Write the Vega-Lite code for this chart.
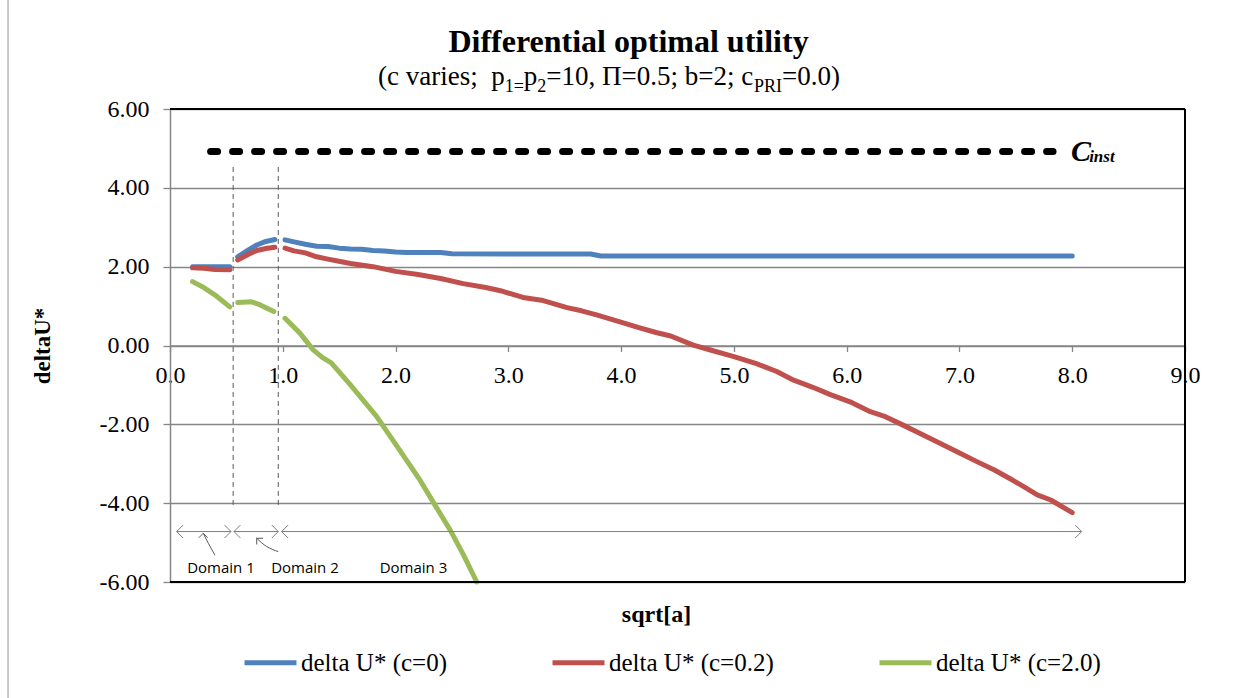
{
  "$schema": "https://vega.github.io/schema/vega-lite/v6.json",
  "width": 1015,
  "height": 473,
  "autosize": "none",
  "padding": {"left": 170, "top": 109, "right": 62, "bottom": 116},
  "background": "white",
  "config": {
    "view": {"stroke": null},
    "font": "Liberation Serif",
    "text": {"font": "Liberation Serif", "color": "black"}
  },
  "title": {
    "text": "Differential optimal utility",
    "font": "Liberation Serif",
    "fontSize": 32,
    "fontWeight": "bold",
    "color": "black",
    "anchor": "middle",
    "dx": -49,
    "offset": -61
  },
  "datasets": {
    "series": [
      {"x": 0.2, "y": 2.0, "s": "delta U* (c=0)", "seg": 1},
      {"x": 0.3, "y": 2.0, "s": "delta U* (c=0)", "seg": 1},
      {"x": 0.4, "y": 2.0, "s": "delta U* (c=0)", "seg": 1},
      {"x": 0.53, "y": 2.0, "s": "delta U* (c=0)", "seg": 1},
      {"x": 0.6, "y": 2.25, "s": "delta U* (c=0)", "seg": 2},
      {"x": 0.7, "y": 2.43, "s": "delta U* (c=0)", "seg": 2},
      {"x": 0.77, "y": 2.55, "s": "delta U* (c=0)", "seg": 2},
      {"x": 0.85, "y": 2.64, "s": "delta U* (c=0)", "seg": 2},
      {"x": 0.93, "y": 2.69, "s": "delta U* (c=0)", "seg": 2},
      {"x": 1.02, "y": 2.68, "s": "delta U* (c=0)", "seg": 3},
      {"x": 1.1, "y": 2.63, "s": "delta U* (c=0)", "seg": 3},
      {"x": 1.2, "y": 2.57, "s": "delta U* (c=0)", "seg": 3},
      {"x": 1.3, "y": 2.52, "s": "delta U* (c=0)", "seg": 3},
      {"x": 1.4, "y": 2.51, "s": "delta U* (c=0)", "seg": 3},
      {"x": 1.5, "y": 2.47, "s": "delta U* (c=0)", "seg": 3},
      {"x": 1.6, "y": 2.45, "s": "delta U* (c=0)", "seg": 3},
      {"x": 1.7, "y": 2.44, "s": "delta U* (c=0)", "seg": 3},
      {"x": 1.8, "y": 2.41, "s": "delta U* (c=0)", "seg": 3},
      {"x": 1.9, "y": 2.4, "s": "delta U* (c=0)", "seg": 3},
      {"x": 2.0, "y": 2.37, "s": "delta U* (c=0)", "seg": 3},
      {"x": 2.1, "y": 2.36, "s": "delta U* (c=0)", "seg": 3},
      {"x": 2.4, "y": 2.36, "s": "delta U* (c=0)", "seg": 3},
      {"x": 2.5, "y": 2.33, "s": "delta U* (c=0)", "seg": 3},
      {"x": 3.0, "y": 2.32, "s": "delta U* (c=0)", "seg": 3},
      {"x": 3.73, "y": 2.32, "s": "delta U* (c=0)", "seg": 3},
      {"x": 3.82, "y": 2.27, "s": "delta U* (c=0)", "seg": 3},
      {"x": 8.0, "y": 2.27, "s": "delta U* (c=0)", "seg": 3},
      {"x": 0.2, "y": 1.97, "s": "delta U* (c=0.2)", "seg": 1},
      {"x": 0.3, "y": 1.96, "s": "delta U* (c=0.2)", "seg": 1},
      {"x": 0.4, "y": 1.93, "s": "delta U* (c=0.2)", "seg": 1},
      {"x": 0.53, "y": 1.92, "s": "delta U* (c=0.2)", "seg": 1},
      {"x": 0.6, "y": 2.17, "s": "delta U* (c=0.2)", "seg": 2},
      {"x": 0.7, "y": 2.32, "s": "delta U* (c=0.2)", "seg": 2},
      {"x": 0.77, "y": 2.41, "s": "delta U* (c=0.2)", "seg": 2},
      {"x": 0.85, "y": 2.46, "s": "delta U* (c=0.2)", "seg": 2},
      {"x": 0.93, "y": 2.49, "s": "delta U* (c=0.2)", "seg": 2},
      {"x": 1.02, "y": 2.47, "s": "delta U* (c=0.2)", "seg": 3},
      {"x": 1.1, "y": 2.4, "s": "delta U* (c=0.2)", "seg": 3},
      {"x": 1.2, "y": 2.35, "s": "delta U* (c=0.2)", "seg": 3},
      {"x": 1.3, "y": 2.25, "s": "delta U* (c=0.2)", "seg": 3},
      {"x": 1.4, "y": 2.19, "s": "delta U* (c=0.2)", "seg": 3},
      {"x": 1.51, "y": 2.13, "s": "delta U* (c=0.2)", "seg": 3},
      {"x": 1.6, "y": 2.08, "s": "delta U* (c=0.2)", "seg": 3},
      {"x": 1.8, "y": 2.0, "s": "delta U* (c=0.2)", "seg": 3},
      {"x": 2.0, "y": 1.88, "s": "delta U* (c=0.2)", "seg": 3},
      {"x": 2.2, "y": 1.8, "s": "delta U* (c=0.2)", "seg": 3},
      {"x": 2.4, "y": 1.7, "s": "delta U* (c=0.2)", "seg": 3},
      {"x": 2.6, "y": 1.57, "s": "delta U* (c=0.2)", "seg": 3},
      {"x": 2.8, "y": 1.47, "s": "delta U* (c=0.2)", "seg": 3},
      {"x": 2.93, "y": 1.39, "s": "delta U* (c=0.2)", "seg": 3},
      {"x": 3.13, "y": 1.22, "s": "delta U* (c=0.2)", "seg": 3},
      {"x": 3.31, "y": 1.14, "s": "delta U* (c=0.2)", "seg": 3},
      {"x": 3.52, "y": 0.96, "s": "delta U* (c=0.2)", "seg": 3},
      {"x": 3.65, "y": 0.88, "s": "delta U* (c=0.2)", "seg": 3},
      {"x": 3.79, "y": 0.77, "s": "delta U* (c=0.2)", "seg": 3},
      {"x": 3.99, "y": 0.6, "s": "delta U* (c=0.2)", "seg": 3},
      {"x": 4.15, "y": 0.46, "s": "delta U* (c=0.2)", "seg": 3},
      {"x": 4.31, "y": 0.33, "s": "delta U* (c=0.2)", "seg": 3},
      {"x": 4.44, "y": 0.24, "s": "delta U* (c=0.2)", "seg": 3},
      {"x": 4.64, "y": 0.01, "s": "delta U* (c=0.2)", "seg": 3},
      {"x": 4.8, "y": -0.12, "s": "delta U* (c=0.2)", "seg": 3},
      {"x": 5.0, "y": -0.28, "s": "delta U* (c=0.2)", "seg": 3},
      {"x": 5.2, "y": -0.46, "s": "delta U* (c=0.2)", "seg": 3},
      {"x": 5.38, "y": -0.66, "s": "delta U* (c=0.2)", "seg": 3},
      {"x": 5.53, "y": -0.88, "s": "delta U* (c=0.2)", "seg": 3},
      {"x": 5.7, "y": -1.06, "s": "delta U* (c=0.2)", "seg": 3},
      {"x": 5.85, "y": -1.24, "s": "delta U* (c=0.2)", "seg": 3},
      {"x": 6.03, "y": -1.43, "s": "delta U* (c=0.2)", "seg": 3},
      {"x": 6.21, "y": -1.68, "s": "delta U* (c=0.2)", "seg": 3},
      {"x": 6.33, "y": -1.79, "s": "delta U* (c=0.2)", "seg": 3},
      {"x": 6.5, "y": -2.02, "s": "delta U* (c=0.2)", "seg": 3},
      {"x": 6.62, "y": -2.19, "s": "delta U* (c=0.2)", "seg": 3},
      {"x": 6.8, "y": -2.44, "s": "delta U* (c=0.2)", "seg": 3},
      {"x": 7.01, "y": -2.74, "s": "delta U* (c=0.2)", "seg": 3},
      {"x": 7.15, "y": -2.94, "s": "delta U* (c=0.2)", "seg": 3},
      {"x": 7.31, "y": -3.16, "s": "delta U* (c=0.2)", "seg": 3},
      {"x": 7.45, "y": -3.38, "s": "delta U* (c=0.2)", "seg": 3},
      {"x": 7.57, "y": -3.58, "s": "delta U* (c=0.2)", "seg": 3},
      {"x": 7.69, "y": -3.79, "s": "delta U* (c=0.2)", "seg": 3},
      {"x": 7.81, "y": -3.92, "s": "delta U* (c=0.2)", "seg": 3},
      {"x": 8.0, "y": -4.24, "s": "delta U* (c=0.2)", "seg": 3},
      {"x": 0.2, "y": 1.62, "s": "delta U* (c=2.0)", "seg": 1},
      {"x": 0.3, "y": 1.47, "s": "delta U* (c=2.0)", "seg": 1},
      {"x": 0.4, "y": 1.28, "s": "delta U* (c=2.0)", "seg": 1},
      {"x": 0.53, "y": 0.98, "s": "delta U* (c=2.0)", "seg": 1},
      {"x": 0.6, "y": 1.09, "s": "delta U* (c=2.0)", "seg": 2},
      {"x": 0.72, "y": 1.11, "s": "delta U* (c=2.0)", "seg": 2},
      {"x": 0.8, "y": 1.03, "s": "delta U* (c=2.0)", "seg": 2},
      {"x": 0.92, "y": 0.86, "s": "delta U* (c=2.0)", "seg": 2},
      {"x": 1.02, "y": 0.69, "s": "delta U* (c=2.0)", "seg": 3},
      {"x": 1.15, "y": 0.32, "s": "delta U* (c=2.0)", "seg": 3},
      {"x": 1.27, "y": -0.11, "s": "delta U* (c=2.0)", "seg": 3},
      {"x": 1.35, "y": -0.3, "s": "delta U* (c=2.0)", "seg": 3},
      {"x": 1.43, "y": -0.44, "s": "delta U* (c=2.0)", "seg": 3},
      {"x": 1.6, "y": -1.0, "s": "delta U* (c=2.0)", "seg": 3},
      {"x": 1.83, "y": -1.79, "s": "delta U* (c=2.0)", "seg": 3},
      {"x": 2.0, "y": -2.5, "s": "delta U* (c=2.0)", "seg": 3},
      {"x": 2.22, "y": -3.43, "s": "delta U* (c=2.0)", "seg": 3},
      {"x": 2.35, "y": -4.05, "s": "delta U* (c=2.0)", "seg": 3},
      {"x": 2.48, "y": -4.66, "s": "delta U* (c=2.0)", "seg": 3},
      {"x": 2.6, "y": -5.3, "s": "delta U* (c=2.0)", "seg": 3},
      {"x": 2.72, "y": -6.0, "s": "delta U* (c=2.0)", "seg": 3}
    ],
    "frameh": [{"y": 6}, {"y": -6}],
    "framev": [{"x": 9}],
    "border": [{"x": -1.436, "y": 8.8, "y2": -9.0}],
    "cinst": [{"x": 0.36, "x2": 7.83, "y": 4.92}],
    "dividers": [
      {"x": 0.56, "y": 4.53, "y2": -4.08},
      {"x": 0.96, "y": 4.53, "y2": -4.08}
    ],
    "spans": [
      {"x": 0.059, "x2": 0.541, "y": -4.72},
      {"x": 0.567, "x2": 0.96, "y": -4.72},
      {"x": 0.99, "x2": 8.084, "y": -4.72}
    ],
    "heads": [
      {"x": 0.059, "y": -4.72, "dir": "left"},
      {"x": 0.567, "y": -4.72, "dir": "left"},
      {"x": 0.99, "y": -4.72, "dir": "left"},
      {"x": 0.541, "y": -4.72, "dir": "right"},
      {"x": 0.96, "y": -4.72, "dir": "right"},
      {"x": 8.084, "y": -4.72, "dir": "right"},
      {"x": 0.295, "y": -4.764, "dir": "up"},
      {"x": 0.769, "y": -4.89, "dir": "upleft"}
    ],
    "curves": [
      {"c": "d1", "o": 1, "x": 0.399, "y": -5.32},
      {"c": "d1", "o": 2, "x": 0.34, "y": -5.018},
      {"c": "d1", "o": 3, "x": 0.295, "y": -4.764},
      {"c": "d2", "o": 1, "x": 0.96, "y": -5.23},
      {"c": "d2", "o": 2, "x": 0.857, "y": -5.1},
      {"c": "d2", "o": 3, "x": 0.769, "y": -4.89}
    ],
    "domains": [
      {"x": 0.452, "y": -5.65, "label": "Domain 1"},
      {"x": 1.197, "y": -5.65, "label": "Domain 2"},
      {"x": 2.159, "y": -5.65, "label": "Domain 3"}
    ],
    "cmain": [{"x": 7.99, "y": 4.92, "t": "C"}],
    "csub": [{"x": 8.15, "y": 4.66, "t": "inst"}],
    "subnormal": [
      {"x": 1.844, "y": 6.608, "t": "(c varies;"},
      {"x": 2.848, "y": 6.608, "t": "p"},
      {"x": 3.137, "y": 6.608, "t": "p"},
      {"x": 3.337, "y": 6.608, "t": "=10, Π=0.5; b=2; c"},
      {"x": 5.427, "y": 6.608, "t": "=0.0)"}
    ],
    "subsmall": [
      {"x": 2.968, "y": 6.43, "t": "1="},
      {"x": 3.257, "y": 6.43, "t": "2"},
      {"x": 5.178, "y": 6.43, "t": "PRI"}
    ]
  },
  "layer": [
    {
      "data": {"name": "series"},
      "mark": {"type": "line", "strokeWidth": 5, "strokeCap": "round", "strokeJoin": "round"},
      "encoding": {
        "x": {
          "field": "x",
          "type": "quantitative",
          "scale": {"domain": [0, 9], "nice": false, "zero": false},
          "axis": {
            "values": [0, 1, 2, 3, 4, 5, 6, 7, 8, 9],
            "format": ".1f",
            "offset": -236.5,
            "grid": false,
            "domainColor": "#868686",
            "domainWidth": 1.3,
            "tickColor": "#868686",
            "tickWidth": 1.3,
            "tickSize": 6,
            "labelFont": "Liberation Serif",
            "labelFontSize": 24,
            "labelColor": "black",
            "labelPadding": 12,
            "labelOverlap": false,
            "labelFlush": false,
            "title": "sqrt[a]",
            "titleFont": "Liberation Serif",
            "titleFontSize": 24,
            "titleFontWeight": "bold",
            "titleColor": "black",
            "titleX": 486,
            "titleY": 276,
            "titleAlign": "center",
            "titleBaseline": "alphabetic"
          }
        },
        "y": {
          "field": "y",
          "type": "quantitative",
          "scale": {"domain": [-6, 6], "nice": false, "zero": false},
          "axis": {
            "values": [-6, -4, -2, 0, 2, 4, 6],
            "labelExpr": "(datum.value < 0 ? '-' : '') + format(abs(datum.value), '.2f')",
            "grid": true,
            "gridColor": "#868686",
            "gridWidth": 1.3,
            "domainColor": "#868686",
            "domainWidth": 1.5,
            "tickColor": "#868686",
            "tickWidth": 1.3,
            "tickSize": 7,
            "labelFont": "Liberation Serif",
            "labelFontSize": 24,
            "labelColor": "black",
            "labelPadding": 14,
            "title": "deltaU*",
            "titleFont": "Liberation Serif",
            "titleFontSize": 23,
            "titleFontWeight": "bold",
            "titleColor": "black",
            "titleX": -128,
            "titleY": 236.5,
            "titleAngle": -90,
            "titleAlign": "center",
            "titleBaseline": "middle"
          }
        },
        "color": {
          "field": "s",
          "type": "nominal",
          "scale": {
            "domain": ["delta U* (c=0)", "delta U* (c=0.2)", "delta U* (c=2.0)"],
            "range": ["#4F81BD", "#C0504D", "#9BBB59"]
          },
          "legend": {
            "orient": "none",
            "legendX": 72,
            "legendY": 525,
            "direction": "horizontal",
            "columns": 3,
            "columnPadding": 95,
            "padding": 0,
            "symbolType": "stroke",
            "symbolSize": 2700,
            "symbolStrokeWidth": 5,
            "labelFont": "Liberation Serif",
            "labelFontSize": 25,
            "labelColor": "black",
            "labelLimit": 400,
            "labelOffset": 2,
            "title": null
          }
        },
        "detail": {"field": "seg", "type": "nominal"}
      }
    },
    {
      "data": {"name": "frameh"},
      "mark": {"type": "rule", "color": "black", "strokeWidth": 2},
      "encoding": {"y": {"field": "y", "type": "quantitative"}}
    },
    {
      "data": {"name": "framev"},
      "mark": {"type": "rule", "color": "black", "strokeWidth": 2},
      "encoding": {"x": {"field": "x", "type": "quantitative"}}
    },
    {
      "data": {"name": "border"},
      "mark": {"type": "rule", "color": "#a6a6a6", "strokeWidth": 1.2},
      "encoding": {
        "x": {"field": "x", "type": "quantitative"},
        "y": {"field": "y", "type": "quantitative"},
        "y2": {"field": "y2"}
      }
    },
    {
      "data": {"name": "cinst"},
      "mark": {"type": "rule", "color": "black", "strokeWidth": 7, "strokeDash": [7, 15], "strokeCap": "round"},
      "encoding": {
        "x": {"field": "x", "type": "quantitative"},
        "x2": {"field": "x2"},
        "y": {"field": "y", "type": "quantitative"}
      }
    },
    {
      "data": {"name": "dividers"},
      "mark": {"type": "rule", "color": "#595959", "strokeWidth": 1, "strokeDash": [5, 4]},
      "encoding": {
        "x": {"field": "x", "type": "quantitative"},
        "y": {"field": "y", "type": "quantitative"},
        "y2": {"field": "y2"}
      }
    },
    {
      "data": {"name": "spans"},
      "mark": {"type": "rule", "color": "#7f7f7f", "strokeWidth": 1},
      "encoding": {
        "x": {"field": "x", "type": "quantitative"},
        "x2": {"field": "x2"},
        "y": {"field": "y", "type": "quantitative"}
      }
    },
    {
      "data": {"name": "heads"},
      "transform": [{"filter": "datum.dir == 'left'"}],
      "mark": {"type": "point", "shape": "M1,-1L0,0L1,1", "filled": false, "stroke": "#7f7f7f", "strokeWidth": 1, "size": 169, "opacity": 1},
      "encoding": {
        "x": {"field": "x", "type": "quantitative"},
        "y": {"field": "y", "type": "quantitative"}
      }
    },
    {
      "data": {"name": "heads"},
      "transform": [{"filter": "datum.dir == 'right'"}],
      "mark": {"type": "point", "shape": "M-1,-1L0,0L-1,1", "filled": false, "stroke": "#7f7f7f", "strokeWidth": 1, "size": 169, "opacity": 1},
      "encoding": {
        "x": {"field": "x", "type": "quantitative"},
        "y": {"field": "y", "type": "quantitative"}
      }
    },
    {
      "data": {"name": "heads"},
      "transform": [{"filter": "datum.dir == 'up'"}],
      "mark": {"type": "point", "shape": "M-1,1L0,0L1,1", "filled": false, "stroke": "#595959", "strokeWidth": 1, "size": 80, "opacity": 1},
      "encoding": {
        "x": {"field": "x", "type": "quantitative"},
        "y": {"field": "y", "type": "quantitative"}
      }
    },
    {
      "data": {"name": "heads"},
      "transform": [{"filter": "datum.dir == 'upleft'"}],
      "mark": {"type": "point", "shape": "M1,-1L0,0L1,1", "angle": 45, "filled": false, "stroke": "#595959", "strokeWidth": 1, "size": 80, "opacity": 1},
      "encoding": {
        "x": {"field": "x", "type": "quantitative"},
        "y": {"field": "y", "type": "quantitative"}
      }
    },
    {
      "data": {"name": "curves"},
      "mark": {"type": "line", "color": "#595959", "strokeWidth": 1, "interpolate": "natural"},
      "encoding": {
        "x": {"field": "x", "type": "quantitative"},
        "y": {"field": "y", "type": "quantitative"},
        "detail": {"field": "c", "type": "nominal"},
        "order": {"field": "o", "type": "quantitative"}
      }
    },
    {
      "data": {"name": "domains"},
      "mark": {"type": "text", "font": "Open Sans", "fontSize": 15, "color": "black", "align": "center", "baseline": "middle"},
      "encoding": {
        "x": {"field": "x", "type": "quantitative"},
        "y": {"field": "y", "type": "quantitative"},
        "text": {"field": "label"}
      }
    },
    {
      "data": {"name": "cmain"},
      "mark": {"type": "text", "font": "Liberation Serif", "fontSize": 30, "fontWeight": "bold", "fontStyle": "italic", "color": "black", "align": "left", "baseline": "middle"},
      "encoding": {
        "x": {"field": "x", "type": "quantitative"},
        "y": {"field": "y", "type": "quantitative"},
        "text": {"field": "t"}
      }
    },
    {
      "data": {"name": "csub"},
      "mark": {"type": "text", "font": "Liberation Serif", "fontSize": 17, "fontWeight": "bold", "fontStyle": "italic", "color": "black", "align": "left", "baseline": "alphabetic"},
      "encoding": {
        "x": {"field": "x", "type": "quantitative"},
        "y": {"field": "y", "type": "quantitative"},
        "text": {"field": "t"}
      }
    },
    {
      "data": {"name": "subnormal"},
      "mark": {"type": "text", "font": "Liberation Serif", "fontSize": 27, "color": "black", "align": "left", "baseline": "alphabetic"},
      "encoding": {
        "x": {"field": "x", "type": "quantitative"},
        "y": {"field": "y", "type": "quantitative"},
        "text": {"field": "t"}
      }
    },
    {
      "data": {"name": "subsmall"},
      "mark": {"type": "text", "font": "Liberation Serif", "fontSize": 18, "color": "black", "align": "left", "baseline": "alphabetic"},
      "encoding": {
        "x": {"field": "x", "type": "quantitative"},
        "y": {"field": "y", "type": "quantitative"},
        "text": {"field": "t"}
      }
    }
  ]
}
